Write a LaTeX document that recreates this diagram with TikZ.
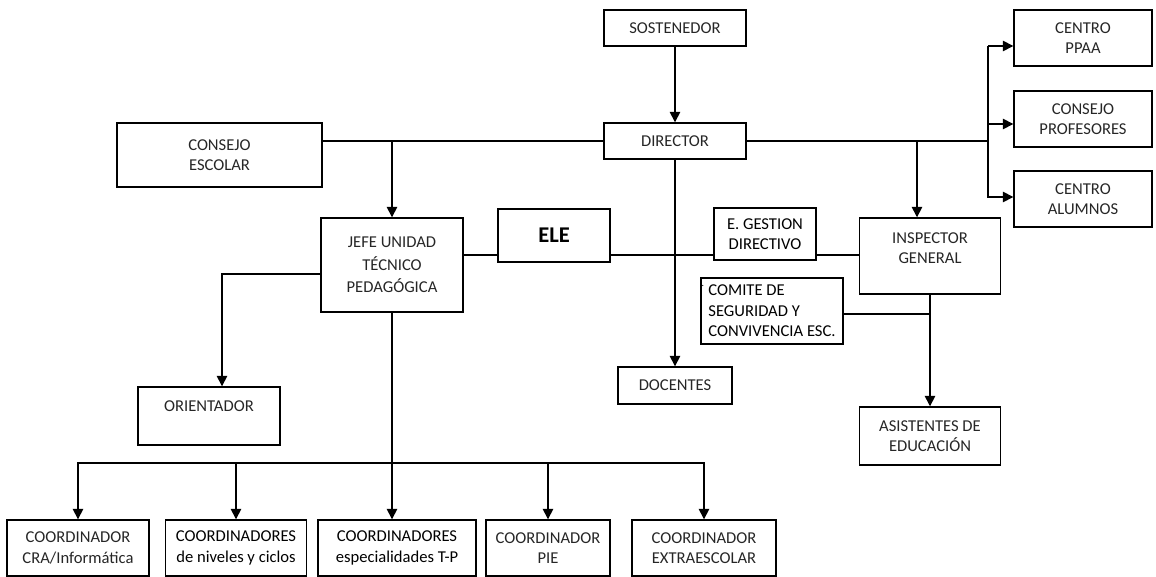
\documentclass[tikz,border=0pt]{standalone}
\usepackage{fontspec}
\setmainfont{Carlito}
\usetikzlibrary{arrows.meta,positioning}

\begin{document}
\begin{tikzpicture}[x=0.025cm,y=-0.025cm,>={Triangle[length=2.6mm,width=2.6mm]},
		box/.style={draw,line width=1pt,align=center,inner sep=1pt,text=black!85,font=\fontsize{11.8}{14.5}\selectfont},
		link/.style={line width=1.1pt}]
	\useasboundingbox (0,0) rectangle (1156,577);
	% top of the chart
	\node[box,minimum width=3.55cm,minimum height=0.9cm] (sostenedor) at (675,28) {SOSTENEDOR};
	\node[box,minimum width=3.55cm,minimum height=0.9cm] (director) at (675,141) {DIRECTOR};
	\node[box,minimum width=5.125cm,minimum height=1.6cm] (consejo) at (219.5,155) {CONSEJO\\ESCOLAR};
	\node[box,minimum width=3.45cm,minimum height=1.4cm] (ppaa) at (1083,38) {CENTRO\\PPAA};
	\node[box,minimum width=3.45cm,minimum height=1.4cm] (profesores) at (1083,119) {CONSEJO\\PROFESORES};
	\node[box,minimum width=3.45cm,minimum height=1.4cm] (alumnos) at (1083,199) {CENTRO\\ALUMNOS};
	% middle row
	\node[box,minimum width=3.55cm,minimum height=2.35cm] (utp) at (392,265) {JEFE UNIDAD\\[1.5pt]TÉCNICO\\[1.5pt]PEDAGÓGICA};
	\node[box,minimum width=2.8cm,minimum height=1.325cm,font=\fontsize{16}{18}\selectfont\bfseries,text=black] (ele) at (554,235.5) {ELE};
	\node[box,minimum width=2.55cm,minimum height=1.3cm,text=black] (gestion) at (765,234) {E. GESTION\\DIRECTIVO};
	\node[box,minimum width=3.525cm,minimum height=1.9cm,text depth=11pt] (inspector) at (930,256) {INSPECTOR\\GENERAL};
	\node[box,minimum width=3.55cm,minimum height=1.65cm,align=left,text=black] (comite) at (772,311)
		{\llap{\raisebox{1.2ex}{\scriptsize.}\hspace{3pt}}COMITE DE\\SEGURIDAD Y\\CONVIVENCIA ESC.};
	\node[box,minimum width=3.55cm,minimum height=1.45cm,text depth=14.4pt] (orientador) at (209,416) {ORIENTADOR};
	\node[box,minimum width=2.85cm,minimum height=0.925cm] (docentes) at (675,385.5) {DOCENTES};
	\node[box,minimum width=3.525cm,minimum height=1.45cm] (asistentes) at (930,436) {ASISTENTES DE\\EDUCACIÓN};
	% coordinators
	\node[box,minimum width=3.55cm,minimum height=1.4cm] (cra) at (78,548) {COORDINADOR\\CRA/Informática};
	\node[box,minimum width=3.525cm,minimum height=1.4cm,text=black] (niveles) at (236,548) {COORDINADORES\\de niveles y ciclos};
	\node[box,minimum width=3.95cm,minimum height=1.4cm,text=black] (tp) at (397,548) {COORDINADORES\\especialidades T-P};
	\node[box,minimum width=3.1cm,minimum height=1.4cm] (pie) at (548,548) {COORDINADOR\\PIE};
	\node[box,minimum width=3.6cm,minimum height=1.4cm] (extra) at (704,548) {COORDINADOR\\EXTRAESCOLAR};
	% junctions
	\coordinate (toInsp) at (917,141);
	\coordinate (trunk) at (988,141);
	\coordinate (bus) at (392,463);
	% connectors
	\draw[link,->] (sostenedor) -- (director);
	\draw[link] (consejo.east |- director.west) -- (director.west);
	\draw[link,->] (utp.north |- director.west) -- (utp.north);
	\draw[link] (director.east) -- (trunk);
	\draw[link,->] (toInsp) -- (toInsp |- inspector.north);
	\draw[link,->] (trunk |- 0,46) -- (ppaa.west |- 0,46);
	\draw[link,->] (trunk |- 0,124) -- (profesores.west |- 0,124);
	\draw[link,->] (trunk |- 0,46) -- (trunk |- 0,197) -- (alumnos.west |- 0,197);
	\draw[link,->] (director) -- (docentes);
	\draw[link] (utp.east |- 0,255) -- (ele.west |- 0,255);
	\draw[link] (ele.east |- 0,255) -- (gestion.west |- 0,255);
	\draw[link] (gestion.east |- 0,255) -- (inspector.west |- 0,255);
	\draw[link,->] (inspector) -- (asistentes);
	\draw[link] (comite.east |- 0,314) -- (inspector.south |- 0,314);
	\draw[link,->] (utp.west |- 0,274) -| (222,0 |- orientador.north);
	\draw[link,->] (utp) -- (utp.south |- tp.north);
	\draw[link,->] (bus) -| (cra.north);
	\draw[link,->] (bus) -| (niveles.north);
	\draw[link,->] (bus) -| (pie.north);
	\draw[link,->] (bus) -| (extra.north);
\end{tikzpicture}
\end{document}
